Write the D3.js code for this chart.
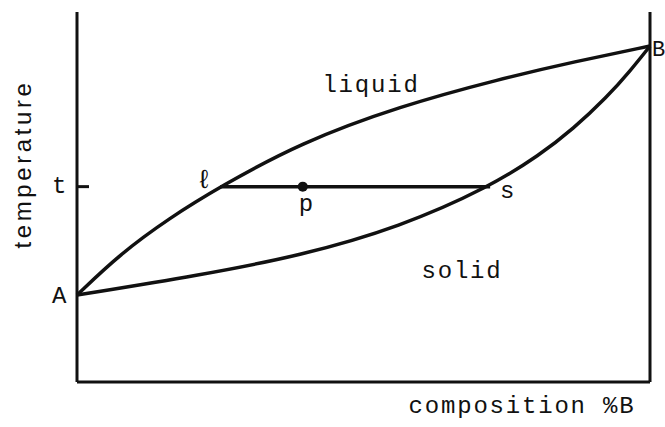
<!DOCTYPE html>
<html>
<head>
<meta charset="utf-8">
<script src="https://cdn.jsdelivr.net/npm/d3@7"></script>
<style>
  body { margin: 0; background: #fff; }
  text { font-family: "Liberation Mono", "DejaVu Sans Mono", monospace; fill: #111; }
</style>
</head>
<body>
<script>
// chart size
const width = 665;
const height = 427;

// liquidus curve (composition %B, temperature)
const liquidus_x = [0, 7.5, 16.2, 25.0, 38.9, 56.4, 73.8, 86.9, 100];
const liquidus_y = [23.5, 34.6, 44.4, 52.8, 64.6, 74.6, 81.9, 86.6, 90.8];

// solidus curve
const solidus_x = [0, 21.5, 38.9, 56.4, 72.1, 80.8, 86.6, 92.5, 96.5, 100];
const solidus_y = [23.5, 28.9, 34.1, 41.9, 52.8, 61.4, 68.4, 77.0, 84.0, 90.8];

// tie line at temperature t
const tie_t = 52.8;
const tie_l = 25.0;
const tie_s = 72.1;
const point_p = 39.4;

const svg = d3.select("body").append("svg")
    .attr("width", width)
    .attr("height", height);

// scales
let xscale = d3.scaleLinear().domain([0, 100]).range([77, 650]);
let yscale = d3.scaleLinear().domain([0, 100]).range([382, 12]);

// frame: left, bottom, right
const frame = svg.append("g")
    .attr("stroke", "#111")
    .attr("stroke-width", 3)
    .attr("fill", "none");
frame.append("line")
    .attr("x1", xscale(0)).attr("x2", xscale(0))
    .attr("y1", yscale(100)).attr("y2", yscale(0));
frame.append("line")
    .attr("x1", xscale(0)).attr("x2", xscale(100))
    .attr("y1", yscale(0)).attr("y2", yscale(0));
frame.append("line")
    .attr("x1", xscale(100)).attr("x2", xscale(100))
    .attr("y1", yscale(100)).attr("y2", yscale(0));

// tick at t
frame.append("line")
    .attr("x1", xscale(0)).attr("x2", xscale(0) + 12)
    .attr("y1", yscale(tie_t)).attr("y2", yscale(tie_t));

const line = d3.line()
    .x(d => xscale(d[0]))
    .y(d => yscale(d[1]))
    .curve(d3.curveBasis);

svg.append("path")
    .datum(d3.zip(liquidus_x, liquidus_y))
    .attr("d", line)
    .attr("fill", "none")
    .attr("stroke", "#111")
    .attr("stroke-width", 3.5);

svg.append("path")
    .datum(d3.zip(solidus_x, solidus_y))
    .attr("d", line)
    .attr("fill", "none")
    .attr("stroke", "#111")
    .attr("stroke-width", 3.5);

// tie line and p
svg.append("line")
    .attr("x1", xscale(tie_l)).attr("x2", xscale(tie_s))
    .attr("y1", yscale(tie_t)).attr("y2", yscale(tie_t))
    .attr("stroke", "#111")
    .attr("stroke-width", 3.5);

svg.append("circle")
    .attr("cx", xscale(point_p))
    .attr("cy", yscale(tie_t))
    .attr("r", 5)
    .attr("fill", "#111");

// labels
function label(x, y, txt, size, anchor) {
    return svg.append("text")
        .attr("x", x).attr("y", y)
        .attr("text-anchor", anchor || "middle")
        .style("font-size", size + "px")
        .style("letter-spacing", "1.8px")
        .text(txt);
}

label(371, 92, "liquid", 24);
label(462, 278, "solid", 24);
label(xscale(point_p) + 4, 211, "p", 24);
label(xscale(tie_s) + 18, 198, "s", 24);
label(xscale(tie_l) - 15, 188, "\u2113", 26);
label(60, 193, "t", 24);
label(60, 303, "A", 24);
svg.append("text")
    .attr("x", xscale(100) + 2).attr("y", 56)
    .style("font-size", "22px")
    .text("B");

label(522, 413, "composition %B", 24);

svg.append("text")
    .attr("transform", "translate(31,164) rotate(-90)")
    .attr("text-anchor", "middle")
    .style("font-family", "'Liberation Sans', Arial, sans-serif")
    .style("font-size", "24px")
    .style("letter-spacing", "3.6px")
    .text("temperature");
</script>
</body>
</html>
